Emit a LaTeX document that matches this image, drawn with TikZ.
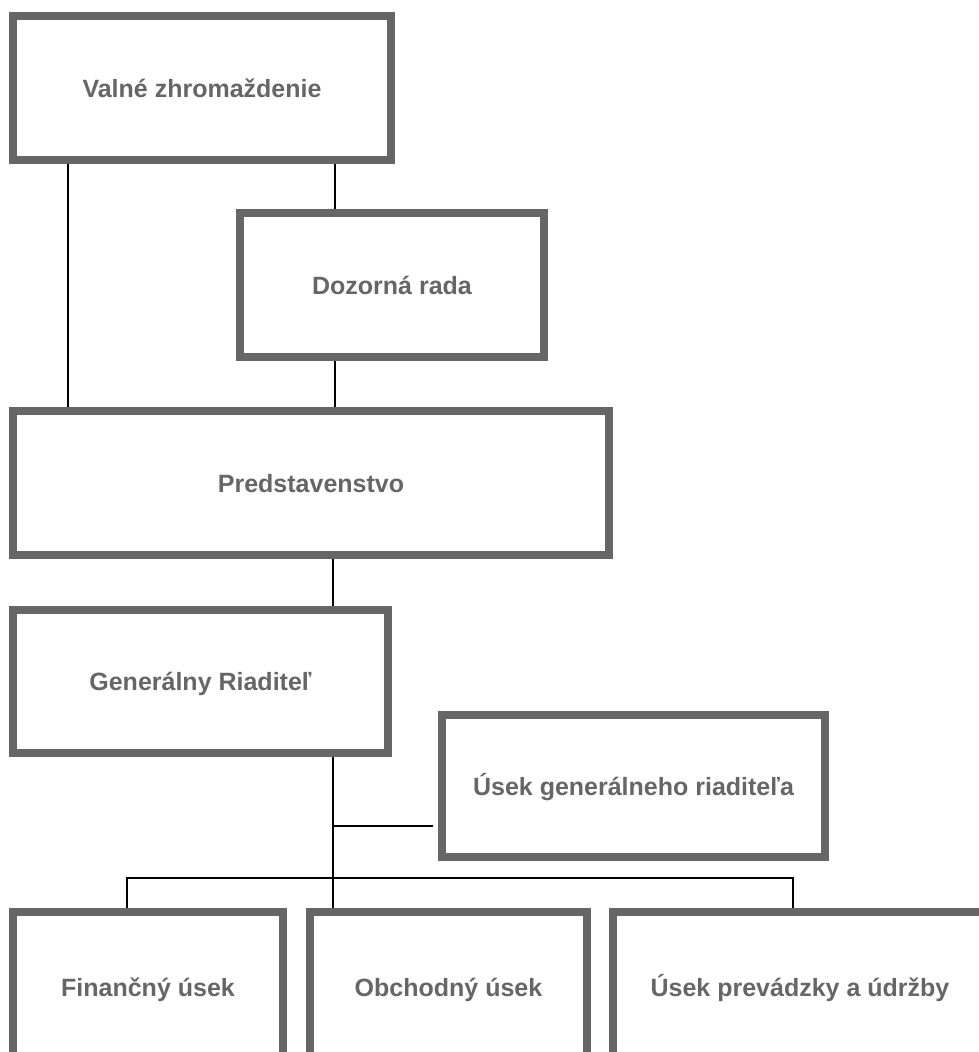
\documentclass[tikz,border=0pt]{standalone}
\usepackage{fontspec}
\setmainfont{Liberation Sans}
\definecolor{boxgray}{HTML}{666666}
\tikzset{
	unit/.style={rectangle, draw=boxgray, line width=8pt, fill=white, text=boxgray,
		font=\fontsize{25}{30}\selectfont\bfseries, inner sep=0pt,
		text height=18pt, text depth=0pt},
	link/.style={draw=black, line width=2pt},
}
\begin{document}
\begin{tikzpicture}[x=1pt, y=-1pt]
	\useasboundingbox (0, 0) rectangle (979, 1052);
	\clip (0, 0) rectangle (979, 1052);

	% Define the boxes with specific positions
	\node[unit, minimum width=378, minimum height=144] (VZ) at (202, 88) {Valné zhromaždenie};
	\node[unit, minimum width=304, minimum height=144] (DR) at (392, 285) {Dozorná rada};
	\node[unit, minimum width=596, minimum height=144] (PR) at (311, 483) {Predstavenstvo};
	\node[unit, minimum width=375, minimum height=143] (GR) at (200.5, 681.5) {Generálny Riaditeľ};
	\node[unit, minimum width=383, minimum height=142] (UGR) at (633.5, 786) {Úsek generálneho riaditeľa};
	\node[unit, minimum width=270, minimum height=150] (FU) at (148, 987) {Finančný úsek};
	\node[unit, minimum width=277, minimum height=150] (OU) at (448.5, 987) {Obchodný úsek};
	\node[unit, minimum width=374, minimum height=150] (UPU) at (800, 987) {Úsek prevádzky a údržby};

	% Points where the lines run
	\coordinate (rail) at (68, 0);
	\coordinate (dr) at (335, 0);
	\coordinate (spine) at (333, 0);
	\coordinate (j) at (333, 826);
	\coordinate (l) at (127, 878);
	\coordinate (r) at (793, 878);

	% Draw the lines between the boxes
	\draw[link] (VZ.south -| rail) -- (PR.north -| rail);
	\draw[link] (VZ.south -| dr) -- (DR.north -| dr);
	\draw[link] (DR.south -| dr) -- (PR.north -| dr);
	\draw[link] (PR.south -| spine) -- (GR.north -| spine);
	\draw[link] (GR.south -| spine) -- (OU.north -| spine);
	\draw[link, shorten >=5pt] (j) -- (j -| UGR.west);
	\draw[link] (FU.north -| l) -- (l) -- (r) -- (UPU.north -| r);
\end{tikzpicture}
\end{document}
